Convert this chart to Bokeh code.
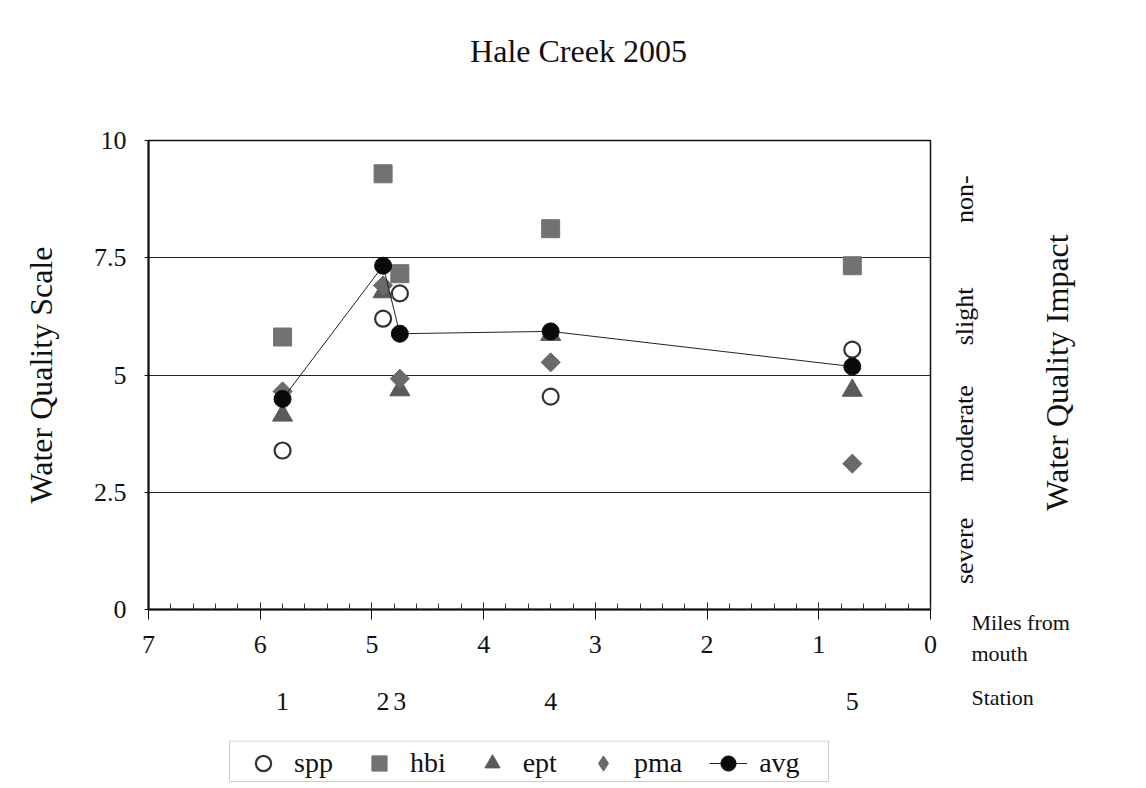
import math
from bokeh.plotting import figure
from bokeh.layouts import column
from bokeh.models import (Range1d, FixedTicker, CustomJSTickFormatter, Label, LinearAxis,
                          ColumnDataSource, Legend, LegendItem, BoxAnnotation)
from bokeh.embed import file_html
from bokeh.resources import INLINE

# ---- data ----
stations = ["1", "2", "3", "4", "5"]
miles = [5.8, 4.9, 4.75, 3.4, 0.7]
spp = [3.39, 6.20, 6.74, 4.54, 5.54]
hbi = [5.81, 9.29, 7.16, 8.12, 7.33]
ept = [4.14, 6.77, 4.68, 5.86, 4.67]
pma = [4.65, 6.91, 4.92, 5.27, 3.11]
avg = [4.49, 7.33, 5.88, 5.93, 5.18]
y_ticks = [0, 2.5, 5, 7.5, 10]
x_ticks = [0, 1, 2, 3, 4, 5, 6, 7]
impact_labels = ["severe", "moderate", "slight", "non-"]
impact_pos = [1.25, 3.75, 6.25, 8.75]
series_names = ["spp", "hbi", "ept", "pma", "avg"]

FONT = "Liberation Serif"
LEG_FONT = "Times New Roman"
TXT = "#111111"

# frame placement (px): left 148, right 930, top 140, bottom 609
FL, FR, FT, FB = 148, 930, 140, 609
MAIN_H = 740      # main canvas height; legend strip below it
W = 1130


def px2x(X):
    return 7 - (X - FL) * 7.0 / (FR - FL)


def px2y(Y):
    return (FB - Y) * 10.0 / (FB - FT)


p = figure(frame_width=FR - FL, frame_height=FB - FT,
           output_backend="svg", toolbar_location=None,
           x_range=Range1d(7, 0), y_range=Range1d(0, 10),
           min_border_left=FL, min_border_right=W - FR,
           min_border_top=FT, min_border_bottom=MAIN_H - FB)
p.background_fill_color = "white"
p.border_fill_color = "white"
p.outline_line_color = TXT
p.outline_line_width = 1.5

# bottom axis (miles)
p.xaxis.ticker = FixedTicker(ticks=x_ticks, minor_ticks=[i * 0.2 for i in range(36)])
p.xaxis.major_tick_in = 7
p.xaxis.major_tick_out = 10
p.xaxis.minor_tick_in = 6
p.xaxis.minor_tick_out = 0
p.xaxis.axis_line_width = 2
p.xaxis.axis_line_color = TXT
p.xaxis.major_tick_line_color = TXT
p.xaxis.minor_tick_line_color = "#333333"
p.xaxis.major_label_text_font = FONT
p.xaxis.major_label_text_font_size = "26px"
p.xaxis.major_label_text_color = TXT
p.xaxis.major_label_standoff = 16

# left axis
p.yaxis.ticker = FixedTicker(ticks=y_ticks)
p.yaxis.formatter = CustomJSTickFormatter(code="return String(tick)")
p.yaxis.major_tick_in = 0
p.yaxis.major_tick_out = 4
p.yaxis.minor_tick_in = 0
p.yaxis.minor_tick_out = 0
p.yaxis.axis_line_width = 2
p.yaxis.axis_line_color = TXT
p.yaxis.major_tick_line_color = TXT
p.yaxis.major_label_text_font = FONT
p.yaxis.major_label_text_font_size = "26px"
p.yaxis.major_label_text_color = TXT
p.yaxis.major_label_standoff = 18
p.yaxis.axis_label = "Water Quality Scale"
p.yaxis.axis_label_text_font = FONT
p.yaxis.axis_label_text_font_size = "32px"
p.yaxis.axis_label_text_font_style = "normal"
p.yaxis.axis_label_text_color = TXT
p.yaxis.axis_label_standoff = 32

p.xgrid.grid_line_color = None
p.ygrid.ticker = FixedTicker(ticks=[2.5, 5, 7.5])
p.ygrid.grid_line_color = "#222222"
p.ygrid.grid_line_width = 1

# station axis
st_axis = LinearAxis(ticker=FixedTicker(ticks=miles),
                     formatter=CustomJSTickFormatter(
                         args=dict(m=miles, s=stations),
                         code="const i = m.indexOf(tick); return i >= 0 ? s[i] : ''"))
st_axis.axis_line_color = None
st_axis.major_tick_line_color = None
st_axis.minor_tick_line_color = None
st_axis.major_tick_out = 0
st_axis.major_tick_in = 0
st_axis.major_label_text_font = FONT
st_axis.major_label_text_font_size = "26px"
st_axis.major_label_text_color = TXT
st_axis.major_label_standoff = 37
p.add_layout(st_axis, "below")

src = ColumnDataSource(dict(miles=miles, spp=spp, hbi=hbi, ept=ept, pma=pma, avg=avg))

STYLE = {
    "spp": dict(marker="circle", size=16, fill_color="white", line_color="#333333", line_width=2.2),
    "hbi": dict(marker="square", size=18, fill_color="#727272", line_color="#727272"),
    "ept": dict(marker="triangle", size=20, fill_color="#5a5a5a", line_color="#5a5a5a"),
    "pma": dict(marker="square", angle=math.pi / 4, size=13.5, fill_color="#6a6a6a",
                line_color="#6a6a6a"),
    "avg": dict(marker="circle", size=17, fill_color="#0a0a0a", line_color="#0a0a0a"),
}

for name in series_names[:4]:
    p.scatter("miles", name, source=src, **STYLE[name])
p.line("miles", "avg", source=src, line_color="#222222", line_width=1)
p.scatter("miles", "avg", source=src, **STYLE["avg"])


def add_text(txt, x, y, size, align="center", angle=0.0, place="above"):
    p.add_layout(Label(x=x, y=y, text=txt, text_font=FONT,
                       text_font_size=size, text_align=align, text_baseline="middle",
                       angle=angle, text_color=TXT), place)


add_text("Hale Creek 2005", px2x(578), px2y(50), "32px")
add_text("Miles from", px2x(971), px2y(622), "22px", align="left")
add_text("mouth", px2x(971), px2y(653), "22px", align="left")
add_text("Station", px2x(971), px2y(697), "22px", align="left")

# right-hand impact classes and title (rotated)
for txt, yv in zip(impact_labels, impact_pos):
    add_text(txt, px2x(964), yv, "26px", angle=math.pi / 2, place="right")
add_text("Water Quality Impact", px2x(1056), px2y(372), "32px",
         angle=math.pi / 2, place="right")

# ---- legend strip (separate canvas directly below the chart) ----
LEG_H = 48
q = figure(width=W, height=LEG_H, output_backend="svg", toolbar_location=None,
           x_range=Range1d(FL, FR), y_range=Range1d(0, LEG_H),
           x_axis_type=None, y_axis_type=None,
           min_border_left=0, min_border_right=0, min_border_top=0, min_border_bottom=0)
q.grid.visible = False
q.outline_line_color = None
q.background_fill_color = "white"
q.border_fill_color = "white"

# legend frame box (pixel coordinates of the strip)
q.add_layout(BoxAnnotation(left=229, right=828, bottom=LEG_H - 41, top=LEG_H - 0.5,
                           fill_color="white", fill_alpha=1.0,
                           line_color="#555555", line_width=1))

# legend-key renderers share the series source; their points fall outside this strip's ranges
LEG_STYLE = dict(STYLE)
LEG_STYLE["pma"] = dict(marker="diamond", size=18, fill_color="#6a6a6a", line_color="#6a6a6a")
items = []
for name in series_names[:4]:
    r = q.scatter("miles", name, source=src, **LEG_STYLE[name])
    items.append(LegendItem(label=name, renderers=[r]))
rl = q.line("miles", "avg", source=src, line_color="#222222", line_width=1)
ra = q.scatter("miles", "avg", source=src, **LEG_STYLE["avg"])
items.append(LegendItem(label="avg", renderers=[rl, ra]))

legend = Legend(items=items, orientation="horizontal", location=(244 - FL, 6))
legend.label_text_font = LEG_FONT
legend.label_text_font_style = "normal"
legend.label_text_font_size = "28px"
legend.label_text_color = TXT
legend.glyph_width = 38
legend.glyph_height = 38
legend.label_standoff = 12
legend.spacing = 27
legend.padding = 2
legend.margin = 0
legend.border_line_color = None
legend.background_fill_alpha = 0
q.add_layout(legend, "center")

layout = column(p, q, spacing=0)
open("out.html", "w").write(file_html(layout, INLINE))
